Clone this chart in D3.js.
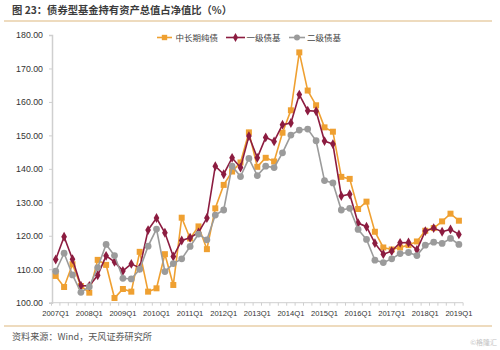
<!DOCTYPE html>
<html>
<head>
<meta charset="utf-8">
<script src="https://cdn.jsdelivr.net/npm/d3@7/dist/d3.min.js"></script>
<style>
  html, body { margin: 0; padding: 0; background: #fff; }
  svg { display: block; }
</style>
</head>
<body>
<svg id="chart" width="500" height="350"></svg>
<script>
// Quarterly series, 2007Q1 – 2019Q1
const years = d3.range(2007, 2020);
const quarters = [];
years.forEach(y => [1, 2, 3, 4].forEach(q => { if (y < 2019 || q === 1) quarters.push(y + "Q" + q); }));

const seriesNames = ["中长期纯债", "一级债基", "二级债基"];

const midLongPure = [
  108.0, 104.7, 111.5, 105.0, 103.0, 112.8, 111.3, 101.4, 104.1, 103.3,
  115.2, 103.3, 104.3, 114.5, 105.3, 125.4, 119.2, 122.8, 116.0, 128.2,
  135.2, 139.2, 141.9, 150.9, 140.6, 143.3, 142.2, 150.8, 157.5, 174.8,
  163.4, 159.0, 152.4, 151.1, 137.6, 137.0, 128.0, 130.2, 121.2, 116.5,
  115.9, 116.5, 117.2, 118.3, 121.5, 122.3, 124.3, 126.6, 124.5
];
const primaryBond = [
  112.9, 119.7, 113.0, 105.1, 105.0, 108.2, 114.0, 112.2, 109.5, 111.6,
  110.4, 121.7, 125.3, 120.9, 113.8, 118.6, 119.4, 121.0, 125.3, 140.8,
  138.4, 143.3, 140.4, 149.8, 143.3, 149.4, 148.2, 153.2, 153.7, 162.2,
  157.4, 157.2, 148.3, 147.4, 131.9, 132.4, 123.8, 122.7, 117.8, 114.5,
  115.4, 117.9, 118.0, 115.8, 121.4, 122.3, 121.2, 121.9, 120.4
];
const secondaryBond = [
  109.4, 114.8, 108.3, 103.1, 104.8, 110.5, 117.4, 114.1, 107.3, 107.1,
  110.0, 116.9, 122.0, 109.3, 111.7, 113.1, 116.8, 120.5, 118.8, 126.2,
  127.7, 140.8, 137.7, 143.1, 138.0, 140.8, 140.4, 144.8, 150.1, 151.6,
  151.9, 148.4, 136.5, 135.8, 127.7, 128.2, 121.9, 118.9, 112.7, 112.0,
  113.1, 114.7, 115.0, 114.1, 117.2, 118.1, 117.7, 119.2, 117.4
];
const yTicks = [100, 110, 120, 130, 140, 150, 160, 170, 180];

const colors = ["#EFA031", "#8C1C40", "#9B9B9B"];
const symbols = [d3.symbolSquare, d3.symbolDiamond, d3.symbolCircle];
const symSizes = [36, 28, 36];
const seriesData = [midLongPure, primaryBond, secondaryBond];

const svg = d3.select("#chart");
const cjk = "'Noto Sans CJK SC', 'Noto Sans', sans-serif";
const latin = "'Liberation Sans', Arial, sans-serif";

// Title and rules
svg.append("text")
  .attr("x", 12).attr("y", 14)
  .attr("font-family", cjk).attr("font-size", 10.3).attr("font-weight", 700)
  .attr("fill", "#3c3c3c")
  .text("图 23：债券型基金持有资产总值占净值比（%）");
svg.append("line").attr("x1", 4).attr("x2", 492).attr("y1", 21).attr("y2", 21)
  .attr("stroke", "#e8cfa9").attr("stroke-width", 1.5);
svg.append("line").attr("x1", 4).attr("x2", 492).attr("y1", 326).attr("y2", 326)
  .attr("stroke", "#e8cfa9").attr("stroke-width", 1.5);
svg.append("text")
  .attr("x", 12).attr("y", 340)
  .attr("font-family", cjk).attr("font-size", 9.1)
  .attr("fill", "#555")
  .text("资料来源：Wind，天风证券研究所");
svg.append("text")
  .attr("x", 497).attr("y", 345).attr("text-anchor", "end")
  .attr("font-family", cjk).attr("font-size", 7)
  .attr("fill", "#c4c4c4")
  .text("©格隆汇");

// Scales
const x = d3.scaleBand().domain(quarters).range([51.5, 463.1]);
const y = d3.scaleLinear().domain([100, 180]).range([302.7, 35]);
const cx = d => x(d) + x.bandwidth() / 2;

// Y axis
const yAxis = svg.append("g").attr("transform", "translate(52,0)")
  .call(d3.axisLeft(y).tickValues(yTicks).tickFormat(d3.format(".2f")).tickSize(3).tickPadding(6));
yAxis.select(".domain").attr("stroke", "#cfcfcf").attr("stroke-width", 1.5);
yAxis.selectAll(".tick line").attr("stroke", "#cfcfcf");
yAxis.selectAll("text").attr("font-family", latin).attr("font-size", 8.8).attr("fill", "#333");

// X axis: ticks on every band boundary, labels only on Q1
const xAxisG = svg.append("g").attr("transform", "translate(0,302.7)");
xAxisG.append("line").attr("x1", 51.5).attr("x2", 463.1)
  .attr("stroke", "#cfcfcf").attr("stroke-width", 1);
xAxisG.selectAll("line.tk").data(quarters.concat(["end"])).join("line")
  .attr("class", "tk")
  .attr("x1", (d, i) => 51.5 + i * x.step()).attr("x2", (d, i) => 51.5 + i * x.step())
  .attr("y1", 0).attr("y2", 3).attr("stroke", "#cfcfcf");
xAxisG.selectAll("text").data(quarters.filter(q => q.endsWith("Q1"))).join("text")
  .attr("x", d => cx(d)).attr("y", 13).attr("text-anchor", "middle")
  .attr("font-family", latin).attr("font-size", 7.6).attr("fill", "#333")
  .text(d => d);

// Series lines and markers
const line = d3.line().x((d, i) => cx(quarters[i])).y(d => y(d));
seriesData.forEach((vals, s) => {
  const g = svg.append("g");
  g.append("path").datum(vals).attr("d", line)
    .attr("fill", "none").attr("stroke", colors[s]).attr("stroke-width", 1.6);
  g.selectAll("path.m").data(vals).join("path").attr("class", "m")
    .attr("transform", (d, i) => `translate(${cx(quarters[i])},${y(d)})`)
    .attr("d", d3.symbol().type(symbols[s]).size(symSizes[s]))
    .attr("fill", colors[s]);
});

// Legend
const legendItems = [
  { x0: 157, x1: 172, tx: 175.5 },
  { x0: 226, x1: 245, tx: 246.5 },
  { x0: 289, x1: 305, tx: 307 }
];
const lg = svg.append("g");
legendItems.forEach((it, s) => {
  lg.append("line").attr("x1", it.x0).attr("x2", it.x1).attr("y1", 37.5).attr("y2", 37.5)
    .attr("stroke", colors[s]).attr("stroke-width", 1.6);
  lg.append("path").attr("transform", `translate(${(it.x0 + it.x1) / 2},37.5)`)
    .attr("d", d3.symbol().type(symbols[s]).size(symSizes[s] * 0.8)).attr("fill", colors[s]);
  lg.append("text").attr("x", it.tx).attr("y", 40.8)
    .attr("font-family", cjk).attr("font-size", 8.5).attr("fill", "#444")
    .text(seriesNames[s]);
});
</script>
</body>
</html>
